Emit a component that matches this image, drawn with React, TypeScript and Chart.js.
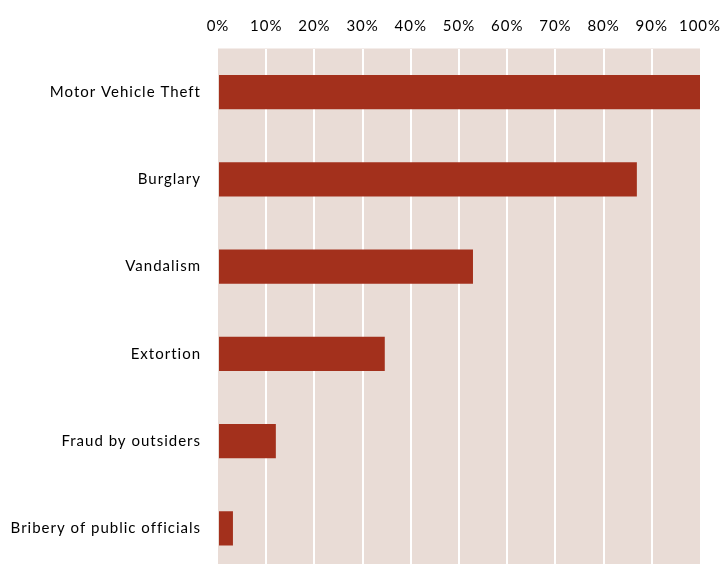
import React, { useEffect, useRef } from "react";
import { Chart, registerables } from "chart.js";

Chart.register(...registerables);

const categories = [
  "Motor Vehicle Theft",
  "Burglary",
  "Vandalism",
  "Extortion",
  "Fraud by outsiders",
  "Bribery of public officials",
];
const values = [100, 86.9, 52.9, 34.6, 12.0, 3.1];
const xTicks = [0, 10, 20, 30, 40, 50, 60, 70, 80, 90, 100];

const FONT = "Lato, 'Open Sans', sans-serif";

const bgPlugin = {
  id: "plotBg",
  beforeDraw(chart: any) {
    const { ctx, chartArea } = chart;
    ctx.letterSpacing = "1px";
    ctx.save();
    ctx.fillStyle = "#e9dcd6";
    ctx.fillRect(chartArea.left, chartArea.top, chartArea.right - chartArea.left, chartArea.bottom - chartArea.top);
    ctx.restore();
  },
};

export default function App() {
  const ref = useRef<HTMLCanvasElement>(null);
  useEffect(() => {
    const chart = new Chart(ref.current!, {
      type: "bar",
      data: {
        labels: categories,
        datasets: [
          {
            data: values,
            backgroundColor: "#a3301c",
            categoryPercentage: 1,
            barPercentage: 0.39,
          },
        ],
      },
      options: {
        indexAxis: "y",
        animation: false,
        responsive: false,
        maintainAspectRatio: false,
        layout: { padding: { left: 0, right: 23, top: 0, bottom: 0 } },
        plugins: { legend: { display: false }, tooltip: { enabled: false } },
        scales: {
          x: {
            position: "top",
            min: 0,
            max: 100,
            afterBuildTicks(scale: any) {
              scale.ticks = xTicks.map((v) => ({ value: v }));
            },
            afterFit(scale: any) {
              scale.height = 48.5;
              scale.paddingLeft = 0;
              scale.paddingRight = 0;
            },
            border: { display: false },
            grid: {
              color: (c: any) => (c.tick && (c.tick.value === 0 || c.tick.value === 100) ? "rgba(0,0,0,0)" : "#ffffff"),
              lineWidth: 2,
              drawTicks: false,
            },
            ticks: {
              padding: 13,
              color: "#000000",
              font: { family: FONT, size: 15 },
              callback: (v: any) => v + "%",
            },
          },
          y: {
            afterFit(scale: any) {
              scale.width = 218;
              scale.paddingTop = 0;
              scale.paddingBottom = 0;
            },
            border: { display: false },
            grid: { display: false, drawTicks: false },
            ticks: {
              padding: 17,
              color: "#000000",
              font: { family: FONT, size: 15 },
            },
          },
        },
      },
      plugins: [bgPlugin],
    });
    return () => chart.destroy();
  }, []);
  return (
    <div style={{ position: "fixed", left: 0, top: 0, width: 723, height: 564, overflow: "hidden", background: "#fff" }}>
      <canvas ref={ref} width={723} height={572} style={{ display: "block", width: 723, height: 572 }} />
    </div>
  );
}
